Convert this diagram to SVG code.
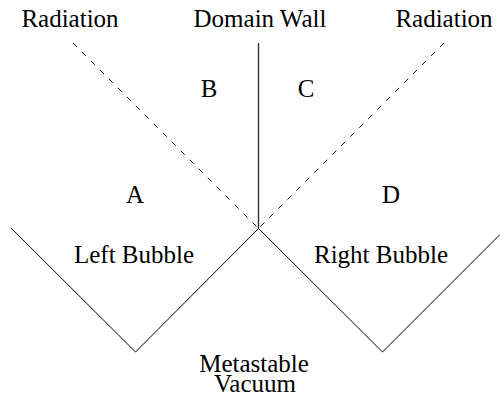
<svg xmlns="http://www.w3.org/2000/svg" width="500" height="402" viewBox="0 0 500 402">
<style>
text{font-family:"Liberation Serif","Times New Roman",serif;font-size:25px;fill:#000;text-anchor:middle}
.solid{fill:none;stroke:#000;stroke-width:1}
.dash{fill:none;stroke:#000;stroke-width:1;stroke-dasharray:5.5 7.2}
.wall{fill:none;stroke:#333;stroke-width:1.4}
</style>
<rect width="500" height="402" fill="#fff"/>
<g id="connectors">
<line class="dash" x1="73" y1="43" x2="258.5" y2="228.5"/>
<line class="dash" x1="444" y1="43" x2="258.5" y2="228.5"/>
<line class="wall" x1="258.5" y1="43" x2="258.5" y2="228.5"/>
<polyline id="left-bubble" class="solid" points="11,228 135.5,352 258.5,228.5"/>
<polyline id="right-bubble" class="solid" points="258.5,228.5 382.5,352 500,234.5"/>
</g>
<g id="radiation-left"><text x="70" y="27">Radiation</text></g>
<g id="domain-wall"><text x="260" y="27">Domain Wall</text></g>
<g id="radiation-right"><text x="444" y="27">Radiation</text></g>
<g id="region-B"><text x="209" y="97">B</text></g>
<g id="region-C"><text x="306" y="97">C</text></g>
<g id="region-A"><text x="135" y="203">A</text></g>
<g id="region-D"><text x="391" y="203">D</text></g>
<g id="left-bubble-label"><text x="134" y="263">Left Bubble</text></g>
<g id="right-bubble-label"><text x="381" y="263">Right Bubble</text></g>
<g id="metastable-vacuum"><text x="254" y="372">Metastable</text><text x="255" y="392">Vacuum</text></g>
</svg>
